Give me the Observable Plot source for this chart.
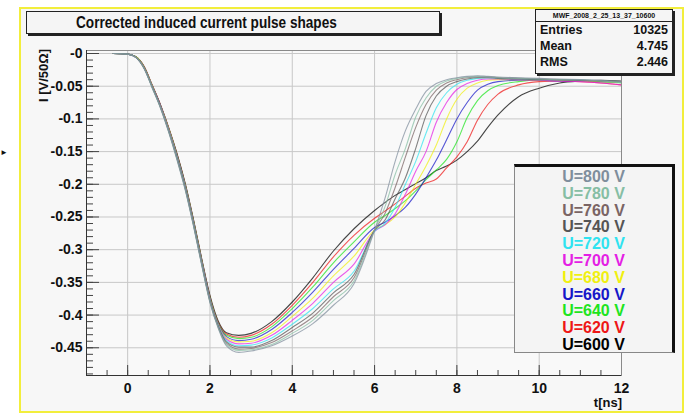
<!DOCTYPE html>
<html>
<head>
<meta charset="utf-8">
<script src="https://cdn.jsdelivr.net/npm/d3@7"></script>
<script src="https://cdn.jsdelivr.net/npm/@observablehq/plot@0.6"></script>
<style>
  html, body { margin: 0; padding: 0; background: #ffffff; }
  #c { position: relative; width: 685px; height: 413px; overflow: hidden;
       font-family: "Liberation Sans", Arial, Helvetica, sans-serif; font-weight: bold; }
  #canvas { position: absolute; left: 19px; top: 7px; width: 661px; height: 402px;
            border: 2px solid #f2ee3c; background: #f7f7f7; }
  #plot { position: absolute; left: 0; top: 0; }
  .box { position: absolute; background: #f5f5f5; border: 1px solid #222; box-shadow: 2px 2px 0 #222; }
  #title { left: 26px; top: 11px; width: 412px; height: 21px; color: #111; }
  #title span { position: absolute; left: 212px; top: 0; font-size: 17px; line-height: 21px; white-space: nowrap;
                transform: translateX(-50%) scaleX(0.8); transform-origin: 0 50%; }
  #stats { left: 535px; top: 9px; width: 136px; height: 63px; color: #111; }
  #stats .hd { font-size: 7px; text-align: center; height: 11px; line-height: 11px; border-bottom: 1px solid #222; }
  #stats .row { position: relative; height: 16px; line-height: 16px; font-size: 12.5px; padding: 0 4px; }
  #stats .row span.v { position: absolute; right: 4px; }
  #legend { position: absolute; left: 514px; top: 164px; width: 157px; height: 185px;
            background: #f4f4f4; border-left: 1px solid #888; border-bottom: 1px solid #888;
            border-top: 3px solid #111; border-right: 3px solid #111; }
  #legend div { position: absolute; left: 0; width: 157px; text-align: center; font-size: 16px; line-height: 16.5px; height: 16.5px; }
  #ytitle { position: absolute; left: 43px; top: 49px; transform-origin: 0 0;
            transform: rotate(-90deg) translate(-100%, -50%); font-size: 13px; white-space: nowrap; color: #111; }
  #xtitle { position: absolute; right: 63px; top: 395px; font-size: 13px; color: #111; }
  #mark { position: absolute; left: 0px; top: 148px; font-size: 8px; color: #111; }
</style>
</head>
<body>
<div id="c">
  <div id="canvas"></div>
  <div id="plot"></div>
  <div class="box" id="title"><span>Corrected induced current pulse shapes</span></div>
  <div class="box" id="stats"></div>
  <div id="legend"></div>
  <div id="ytitle">I [V/50Ω]</div>
  <div id="xtitle">t[ns]</div>
  <div id="mark">►</div>
</div>
<script>
// ---- data ----
const times = [-0.35, 0, 0.2, 0.4, 0.6, 0.8, 1.0, 1.2, 1.4, 1.6, 1.8, 2.0, 2.2, 2.4, 2.7, 3.0, 3.5, 4.0, 4.5, 5.0,
               5.5, 6.0, 6.25, 6.5, 6.75, 7.0, 7.25, 7.5, 7.75, 8.0, 8.25, 8.5, 8.75, 9.0, 9.5, 10, 10.5, 11, 11.5, 12];

const voltages = [800, 780, 760, 740, 720, 700, 680, 660, 640, 620, 600];
const legendColors = ["#7f8e9c", "#86bea4", "#7a6464", "#555555", "#2fe3f0", "#e41ee4", "#f0f010", "#1616c8", "#1ee41e", "#ee1616", "#000000"];

const u600 = [0, -0.001, -0.005, -0.020, -0.049, -0.079, -0.114, -0.153, -0.199, -0.254, -0.314, -0.370, -0.409, -0.427, -0.431, -0.428, -0.410, -0.380, -0.343, -0.302, -0.268, -0.240, -0.228, -0.217, -0.208, -0.199, -0.190, -0.179, -0.172, -0.163, -0.150, -0.134, -0.113, -0.094, -0.066, -0.053, -0.045, -0.042, -0.041, -0.042];
const u620 = [0, -0.001, -0.005, -0.020, -0.049, -0.079, -0.114, -0.154, -0.200, -0.255, -0.315, -0.372, -0.411, -0.429, -0.434, -0.431, -0.414, -0.385, -0.350, -0.311, -0.278, -0.252, -0.241, -0.230, -0.218, -0.206, -0.198, -0.192, -0.175, -0.158, -0.135, -0.102, -0.078, -0.062, -0.048, -0.043, -0.042, -0.043, -0.045, -0.048];
const u640 = [0, -0.001, -0.005, -0.021, -0.050, -0.080, -0.115, -0.155, -0.201, -0.256, -0.316, -0.373, -0.412, -0.431, -0.436, -0.434, -0.418, -0.390, -0.357, -0.320, -0.288, -0.258, -0.248, -0.237, -0.225, -0.210, -0.193, -0.178, -0.162, -0.135, -0.098, -0.072, -0.057, -0.049, -0.043, -0.041, -0.041, -0.042, -0.043, -0.045];
const u660 = [0, -0.001, -0.005, -0.021, -0.050, -0.080, -0.116, -0.156, -0.202, -0.257, -0.317, -0.374, -0.413, -0.433, -0.439, -0.437, -0.422, -0.396, -0.365, -0.330, -0.298, -0.266, -0.258, -0.248, -0.235, -0.215, -0.190, -0.163, -0.132, -0.100, -0.075, -0.056, -0.047, -0.043, -0.041, -0.041, -0.042, -0.042, -0.043, -0.044];
const u680 = [0, -0.001, -0.005, -0.021, -0.050, -0.081, -0.116, -0.157, -0.203, -0.258, -0.318, -0.375, -0.414, -0.435, -0.441, -0.440, -0.427, -0.402, -0.374, -0.340, -0.310, -0.270, -0.262, -0.250, -0.228, -0.200, -0.172, -0.140, -0.100, -0.070, -0.053, -0.045, -0.041, -0.040, -0.040, -0.041, -0.041, -0.042, -0.043, -0.044];
const u700 = [0, -0.001, -0.006, -0.022, -0.051, -0.081, -0.117, -0.158, -0.204, -0.259, -0.319, -0.376, -0.415, -0.437, -0.444, -0.443, -0.431, -0.408, -0.382, -0.350, -0.322, -0.272, -0.262, -0.245, -0.215, -0.180, -0.150, -0.105, -0.075, -0.055, -0.046, -0.041, -0.039, -0.039, -0.040, -0.041, -0.042, -0.043, -0.045, -0.048];
const u720 = [0, -0.001, -0.006, -0.022, -0.051, -0.082, -0.118, -0.159, -0.205, -0.260, -0.320, -0.377, -0.416, -0.439, -0.447, -0.446, -0.435, -0.414, -0.390, -0.360, -0.333, -0.272, -0.260, -0.235, -0.200, -0.165, -0.122, -0.083, -0.060, -0.047, -0.041, -0.038, -0.037, -0.038, -0.039, -0.040, -0.040, -0.041, -0.042, -0.044];
const u740 = [0, -0.001, -0.006, -0.022, -0.052, -0.082, -0.119, -0.160, -0.206, -0.261, -0.321, -0.378, -0.417, -0.441, -0.449, -0.449, -0.439, -0.419, -0.397, -0.366, -0.338, -0.270, -0.255, -0.222, -0.190, -0.145, -0.095, -0.065, -0.050, -0.043, -0.039, -0.037, -0.037, -0.038, -0.039, -0.040, -0.040, -0.041, -0.042, -0.043];
const u760 = [0, -0.001, -0.006, -0.023, -0.052, -0.083, -0.119, -0.161, -0.207, -0.262, -0.322, -0.379, -0.418, -0.443, -0.452, -0.451, -0.442, -0.424, -0.403, -0.372, -0.343, -0.270, -0.245, -0.205, -0.158, -0.113, -0.078, -0.056, -0.045, -0.040, -0.037, -0.036, -0.036, -0.037, -0.038, -0.039, -0.040, -0.041, -0.042, -0.043];
const u780 = [0, -0.001, -0.006, -0.023, -0.053, -0.083, -0.120, -0.162, -0.208, -0.263, -0.323, -0.380, -0.419, -0.445, -0.454, -0.453, -0.445, -0.428, -0.408, -0.378, -0.348, -0.270, -0.235, -0.185, -0.145, -0.097, -0.068, -0.050, -0.042, -0.038, -0.036, -0.035, -0.036, -0.037, -0.038, -0.039, -0.040, -0.040, -0.042, -0.044];
const u800 = [0, -0.001, -0.006, -0.023, -0.053, -0.084, -0.121, -0.163, -0.209, -0.264, -0.324, -0.381, -0.420, -0.447, -0.457, -0.455, -0.447, -0.432, -0.413, -0.385, -0.352, -0.270, -0.222, -0.165, -0.118, -0.085, -0.058, -0.046, -0.040, -0.037, -0.035, -0.034, -0.035, -0.036, -0.037, -0.038, -0.039, -0.040, -0.041, -0.043];

const xTicks = [0, 2, 4, 6, 8, 10, 12];
const yTicks = [0, -0.05, -0.1, -0.15, -0.2, -0.25, -0.3, -0.35, -0.4, -0.45];
const yTickLabels = ["-0", "-0.05", "-0.1", "-0.15", "-0.2", "-0.25", "-0.3", "-0.35", "-0.4", "-0.45"];

const statsName = "MWF_2008_2_25_13_37_10600";
const statsLabels = ["Entries", "Mean", "RMS"];
const statsValues = ["10325", "4.745", "2.446"];

// ---- build ----
const seriesByVoltage = {600: u600, 620: u620, 640: u640, 660: u660, 680: u680, 700: u700,
                         720: u720, 740: u740, 760: u760, 780: u780, 800: u800};
const rows = [];
for (const U of voltages.slice().reverse()) {
  seriesByVoltage[U].forEach((v, i) => rows.push({t: times[i], v, U}));
}

const xDomain = [-1, 12];
const yDomain = [-0.4924, 0.0046];
const W = 685, H = 413, mL = 86, mR = 64, mT = 50, mB = 38;
const pw = W - mL - mR, ph = H - mT - mB;
const minorX = d3.range(-1, 12.01, 0.5);
const minorY = d3.range(0, -0.491, -0.01);

const chart = Plot.plot({
  width: W, height: H,
  marginLeft: mL, marginRight: mR, marginTop: mT, marginBottom: mB,
  style: {background: "transparent", fontFamily: "Liberation Sans, Arial, sans-serif"},
  x: {domain: xDomain},
  y: {domain: yDomain},
  color: {domain: voltages, range: legendColors},
  marks: [
    Plot.rect([0], {x1: xDomain[0], x2: xDomain[1], y1: yDomain[0], y2: yDomain[1], fill: "#f9f9f9"}),
    Plot.gridX(xTicks, {stroke: "#c8c8c8", strokeOpacity: 1}),
    Plot.gridY(yTicks, {stroke: "#c8c8c8", strokeOpacity: 1}),
    Plot.tickX(minorX, {x: d => d, insetTop: ph - 5, stroke: "#444"}),
    Plot.tickX(xTicks, {x: d => d, insetTop: ph - 10, stroke: "#444"}),
    Plot.tickY(minorY, {y: d => d, insetRight: pw - 7, stroke: "#444"}),
    Plot.tickY(yTicks, {y: d => d, insetRight: pw - 13, stroke: "#444"}),
    Plot.line(rows, {x: "t", y: "v", z: "U", stroke: "U", strokeWidth: 1.1, strokeOpacity: 0.72, curve: "monotone-x"}),
    Plot.frame({stroke: "#8a8a8a"}),
    Plot.ruleX([xDomain[0]], {stroke: "#333"}),
    Plot.ruleY([yDomain[0]], {stroke: "#333"}),
    Plot.axisX(xTicks, {tickSize: 0, tickPadding: 8, fontSize: 14, fontWeight: "bold", label: null, fill: "#111"}),
    Plot.axisY(yTicks, {tickSize: 0, tickPadding: 4, fontSize: 14, fontWeight: "bold", label: null, fill: "#111",
                        tickFormat: d => yTickLabels[yTicks.indexOf(d)]})
  ]
});
document.getElementById("plot").appendChild(chart);

// stats box
const stats = document.getElementById("stats");
const hd = document.createElement("div"); hd.className = "hd"; hd.textContent = statsName; stats.appendChild(hd);
statsLabels.forEach((l, i) => {
  const r = document.createElement("div"); r.className = "row";
  r.innerHTML = `<span>${l}</span><span class="v">${statsValues[i]}</span>`;
  stats.appendChild(r);
});

// legend
const leg = document.getElementById("legend");
voltages.forEach((U, i) => {
  const d = document.createElement("div");
  d.style.top = (2 + i * 16.8) + "px";
  d.style.color = legendColors[i];
  d.textContent = `U=${U} V`;
  leg.appendChild(d);
});
</script>
</body>
</html>
